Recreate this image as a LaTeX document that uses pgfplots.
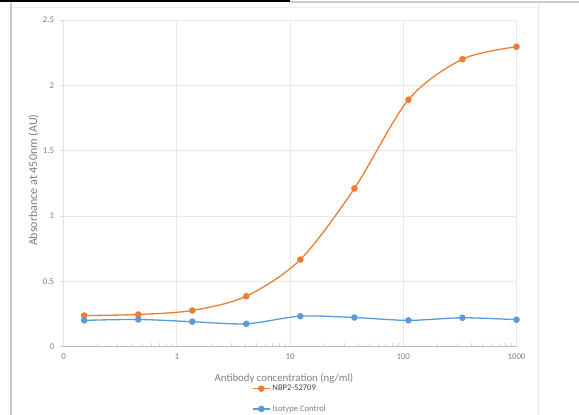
\documentclass[border=0pt]{standalone}
\usepackage{pgfplots}
\pgfplotsset{compat=1.18}
\usepackage{fontspec}
\setmainfont{Carlito}
\definecolor{xorange}{HTML}{ED7D31}
\definecolor{xblue}{HTML}{5B9BD5}
\definecolor{gridc}{HTML}{E8E8E8}
\definecolor{txt}{HTML}{7F7F7F}
\begin{document}
\begin{tikzpicture}[x=1pt,y=1pt]
\useasboundingbox (0,0) rectangle (579,415);
% screenshot frame
\fill[black] (0,412.5) rectangle (290,415);
\fill[black!20] (290,411.5) rectangle (579,414);
\fill[black!22] (9.5,0) rectangle (12,412);
\draw[black!10,line width=0.8pt] (538,0) -- (538,411);
\draw[black!6,line width=0.6pt] (12,408) -- (538,408);
\begin{axis}[
  at={(63.5pt,68.5pt)}, anchor=south west,
  scale only axis, width=453pt, height=326.5pt,
  xmode=log, xmin=0.1, xmax=1000, ymin=0, ymax=2.5,
  xtick={0.1,1,10,100,1000}, xticklabels={0,1,10,100,1000},
  ytick={0,0.5,1,1.5,2,2.5}, yticklabels={0,0.5,1,1.5,2,2.5},
  minor xtick={0.2,0.3,0.4,0.5,0.6,0.7,0.8,0.9,2,3,4,5,6,7,8,9,20,30,40,50,60,70,80,90,200,300,400,500,600,700,800,900},
  tick pos=left,
  grid=major, major grid style={gridc, line width=0.6pt},
  minor grid style={draw=none},
  axis line style={draw=none},
  extra description/.code={
    \draw[black!28,line width=0.7pt] (rel axis cs:0,0) -- (rel axis cs:1,0);
    \draw[black!12,line width=0.6pt] (rel axis cs:0,0) -- (rel axis cs:0,1);
  },
  x tick style={draw=none},
  minor x tick style={draw=black!15, line width=0.5pt},
  minor tick length=3pt,
  y tick style={draw=black!15, line width=0.5pt},
  ytick align=outside, major tick length=4pt,
  tick label style={font=\fontsize{8.8}{10}\selectfont, text=txt},
  /pgf/number format/assume math mode=true,
  xticklabel style={yshift=-4pt},
  yticklabel style={xshift=-2pt},
  xlabel={Antibody concentration (ng/ml)},
  ylabel={Absorbance at 450nm (AU)},
  every axis x label/.style={at={(axis description cs:0.5,0)}, anchor=center, yshift=-31.5pt, xshift=-6pt,
    font=\fontsize{10.8}{12}\selectfont, text=txt},
  every axis y label/.style={at={(axis description cs:0,0.5)}, anchor=center, xshift=-30pt, yshift=3pt, rotate=90,
    font=\fontsize{12}{13}\selectfont, text=txt},
  legend style={at={(axis description cs:0.5,-0.1605)}, anchor=center, draw=none, fill=none,
    font=\fontsize{8.6}{10}\selectfont, text=txt, row sep=9pt, inner sep=1pt},
  legend cell align=left,
  clip=false,
]
\addplot[color=xorange, line width=1.3pt, smooth, mark=*, mark size=2.6pt, mark options={fill=xorange, draw=xorange}]
  coordinates {(0.1524,0.237) (0.4572,0.245) (1.3717,0.276) (4.115,0.385) (12.346,0.666) (37.037,1.21) (111.11,1.89) (333.33,2.20) (1000,2.295)};
\addlegendentry{\textcolor{black!75}{NBP2-52709}}
\addplot[color=xblue, line width=1.3pt, smooth, mark=*, mark size=2.6pt, mark options={fill=xblue, draw=xblue}]
  coordinates {(0.1524,0.200) (0.4572,0.207) (1.3717,0.190) (4.115,0.174) (12.346,0.232) (37.037,0.222) (111.11,0.200) (333.33,0.220) (1000,0.205)};
\addlegendentry{Isotype Control}
\end{axis}
\end{tikzpicture}
\end{document}
